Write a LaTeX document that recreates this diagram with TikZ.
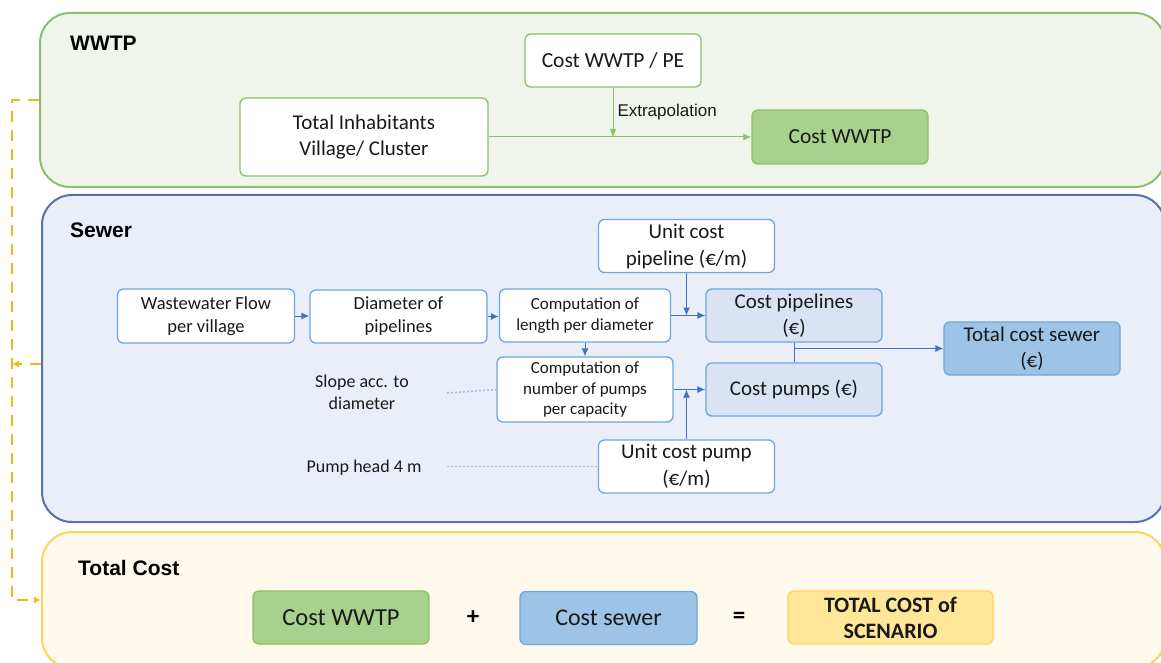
\documentclass[tikz,border=0pt]{standalone}
\usepackage{fontspec}
\setmainfont{Carlito}
\newfontfamily\arialfont{Liberation Sans}
\usetikzlibrary{arrows.meta}
\definecolor{wwtpfill}{HTML}{EFF5EA}
\definecolor{wwtpline}{HTML}{8CC168}
\definecolor{sewfill}{HTML}{E9EEF8}
\definecolor{sewline}{HTML}{5472AD}
\definecolor{totfill}{HTML}{FFF9EC}
\definecolor{totline}{HTML}{FFD456}
\definecolor{boxblue}{HTML}{6FA6DE}
\definecolor{pipefill}{HTML}{DAE3F3}
\definecolor{sumblue}{HTML}{9DC3E6}
\definecolor{sumgreen}{HTML}{A9D18E}
\definecolor{sumyellow}{HTML}{FFE699}
\definecolor{orangeline}{HTML}{F7B41C}
\definecolor{arrowblue}{HTML}{4472C4}
\newcommand{\setfs}[2]{\fontsize{#1}{#2}\selectfont}
\tikzset{% default arrow tips
    >={Latex[length=8pt,width=7pt]},
    panel/.style={rounded corners=30pt, line width=2pt, inner sep=0pt},
    box/.style={draw, rounded corners=6pt, fill=white, align=center, line width=1.3pt, inner sep=2pt, text=black!90},
    gbox/.style={box, draw=wwtpline},
    bbox/.style={box, draw=boxblue},
    garrow/.style={->, draw=wwtpline, line width=1pt, color=wwtpline},
    barrow/.style={->, draw=arrowblue, line width=1pt, color=arrowblue},
    dotline/.style={draw=sumblue, line width=1.5pt, dash pattern=on 2pt off 2pt},
    orangedash/.style={draw=orangeline, color=orangeline, line width=2.5pt, dash pattern=on 11pt off 8pt},
    title/.style={font=\arialfont\bfseries\setfs{21}{24}, anchor=west, inner sep=0pt}
}
\begin{document}
\begin{tikzpicture}[x=1pt,y=-1pt]
    \useasboundingbox (0,0) rectangle (1161,663);
    \clip (0,0) rectangle (1161,663);

    % panels
    \node[panel, draw=wwtpline, fill=wwtpfill, minimum width=1125, minimum height=174] (wwtppanel) at (602.5,100) {};
    \node[panel, draw=sewline, fill=sewfill, minimum width=1123, minimum height=327] (sewpanel) at (603.5,358.5) {};
    \node[panel, draw=totline, fill=totfill, minimum width=1123, minimum height=136] (totpanel) at (603.5,600) {};

    \node[title] (wwtplabel) at (70,43) {WWTP};
    \node[title] (sewlabel) at (70,230) {Sewer};
    \node[title] (totlabel) at (78,568) {Total Cost};

    % wwtp
    \node[gbox, minimum width=176, minimum height=53, font=\setfs{21.5}{26}] (perpe) at (613,60.5) {Cost WWTP / PE};
    \node[gbox, minimum width=248, minimum height=78, font=\setfs{21}{26}] (inhab) at (364,137) {Total Inhabitants\\Village/ Cluster};
    \node[gbox, fill=sumgreen, minimum width=176, minimum height=54, font=\setfs{21.5}{26}] (costwwtp) at (840,137) {Cost WWTP};

    \draw[garrow] (inhab.east) -- (costwwtp.west);
    \draw[garrow] (perpe.south) -- (perpe.south |- inhab.east)
        node [midway, right, text=black!90, font=\arialfont\setfs{17}{20}, inner sep=4pt] {Extrapolation};

    % sewer
    \node[bbox, minimum width=177, minimum height=54, font=\setfs{18.5}{23}] (flow) at (206,316) {Wastewater Flow\\per village};
    \node[bbox, minimum width=177, minimum height=53, font=\setfs{18.5}{23}] (diam) at (398.5,316.5) {Diameter of\\pipelines};
    \node[bbox, minimum width=171, minimum height=53, font=\setfs{17}{21}] (compl) at (585,315.5) {Computation of\\length per diameter};
    \node[bbox, minimum width=176, minimum height=65, font=\setfs{17}{20.5}] (compp) at (585,389.5) {Computation of\\number of pumps\\per capacity};
    \node[bbox, minimum width=176, minimum height=53, font=\setfs{21}{27}] (ucpipe) at (686.5,246) {Unit cost\\pipeline (€/m)};
    \node[bbox, fill=pipefill, minimum width=176, minimum height=53, font=\setfs{21}{26}] (costpipe) at (794,315.5) {Cost pipelines\\(€)};
    \node[bbox, fill=pipefill, minimum width=176, minimum height=53, font=\setfs{21}{26}] (costpump) at (794,389.5) {Cost pumps (€)};
    \node[bbox, fill=sumblue, minimum width=176, minimum height=53, font=\setfs{21}{26}] (totsew) at (1032,348.5) {Total cost sewer\\(€)};
    \node[bbox, minimum width=176, minimum height=53, font=\setfs{21}{27}] (ucpump) at (686.5,466.5) {Unit cost pump\\(€/m)};

    \node[align=center, font=\setfs{18}{22}, text=black!90] (slope) at (362,392) {Slope acc. to\\diameter};
    \node[font=\setfs{18}{22}, text=black!90] (head) at (364,468) {Pump head 4 m};
    \coordinate (slopeend) at (447,393);
    \coordinate (headend) at (447,466.5);

    \draw[barrow] (flow.east) -- (flow.east -| diam.west);
    \draw[barrow] (diam.east) -- (diam.east -| compl.west);
    \draw[barrow] (compl.south) -- (compl.south |- compp.north);
    \draw[barrow] (compl.east) -- (compl.east -| costpipe.west);
    \draw[barrow] (ucpipe.south) -- (ucpipe.south |- costpipe.west);
    \draw[barrow] (compp.east) -- (compp.east -| costpump.west);
    \draw[barrow] (ucpump.north) -- (ucpump.north |- costpump.west);
    \draw[draw=arrowblue, line width=1pt] (costpipe.south) -- (costpump.north);
    \draw[barrow] (costpipe.south |- totsew.west) -- (totsew.west);
    \draw[dotline] (slopeend) -- (compp.west);
    \draw[dotline] (headend) -- (ucpump.west);

    % total cost
    \node[gbox, fill=sumgreen, minimum width=176, minimum height=53, font=\setfs{24.5}{28}] (sumwwtp) at (341,617.5) {Cost WWTP};
    \node[bbox, fill=sumblue, minimum width=177, minimum height=53, font=\setfs{24}{28}] (sumsew) at (608.5,618) {Cost sewer};
    \node[box, draw=totline, fill=sumyellow, minimum width=205, minimum height=53, font=\bfseries\setfs{22}{26}] (sumtot) at (890.5,617.5) {TOTAL COST of\\SCENARIO};
    \node[font=\bfseries\setfs{25}{28}] (plus) at (473,618) {+};
    \node[font=\bfseries\setfs{25}{28}] (equals) at (739,618) {=};

    % links between panels
    \coordinate (otop) at (12,100);
    \coordinate (omid) at (12,364);
    \draw[orangedash, ->, >={Latex[length=7pt,width=7pt]}] (wwtppanel.west) -- (otop) |- (totpanel.west);
    \draw[orangedash, ->, >={Latex[length=7pt,width=7pt]}] ([yshift=-5.5pt]sewpanel.west) -- (omid);
\end{tikzpicture}
\end{document}
